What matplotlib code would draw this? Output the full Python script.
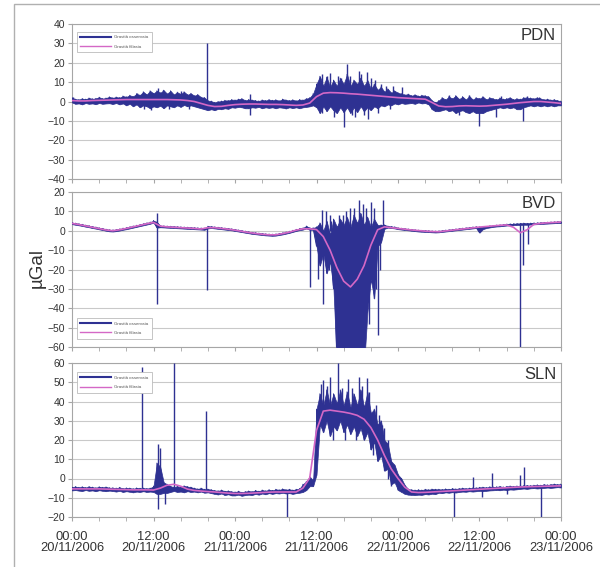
import numpy as np
import matplotlib
matplotlib.use("Agg")
import matplotlib.pyplot as plt
from matplotlib.lines import Line2D
from matplotlib.patches import Rectangle

plt.rcParams['font.family'] = ['Liberation Sans', 'DejaVu Sans']

# ---------------- data ----------------
# observed noise band sampled every half hour (0 .. 72 h from 20/11/2006 00:00)
hours_obs = np.linspace(0, 72, 145)
# filtered series sampled every hour
hours_filt = np.linspace(0, 72, 73)

stations = ["PDN", "BVD", "SLN"]

pdn_hi = [2.0, 1.2, 1.0, 1.5, 1.2, 1.8, 1.4, 1.6, 2.2, 1.5, 1.8, 2.4,
          1.9, 2.3, 2.0, 2.8, 2.4, 3.2, 2.6, 4.0, 3.3, 5.0, 3.6, 5.5,
          4.2, 5.5, 4.5, 5.8, 4.0, 5.5, 3.6, 4.8, 3.8, 5.0, 3.5, 4.2,
          3.0, 3.6, 2.2, 2.0, 0.5, 0.2, -0.5, 0.0, 0.2, 0.6, 0.5, 1.0,
          0.8, 1.2, 1.5, 0.6, 1.0, 0.8, 0.5, 0.3, 0.8, 0.5, 1.0, 0.6,
          0.9, 0.4, 1.2, 0.8, 0.5, 0.9, 0.4, 1.0, 0.8, 1.5, 2.0, 4.0,
          9.0, 13.0, 8.0, 12.5, 7.5, 11.0, 8.0, 12.0, 9.0, 14.0, 8.0, 11.0,
          9.0, 12.0, 8.0, 11.0, 6.5, 9.0, 6.0, 7.5, 5.0, 6.5, 4.5, 5.5,
          4.5, 4.0, 3.5, 3.8, 3.0, 3.5, 2.8, 3.2, 3.0, 2.5, 0.5, -0.5,
          0.5, 2.0, 1.0, 2.5, 1.5, 3.0, 1.2, 2.5, 1.0, 2.8, 1.0, 2.0,
          1.5, 2.5, 1.0, 2.0, 1.5, 1.0, 1.8, 1.2, 1.5, 2.0, 1.0, 1.5,
          1.2, 2.0, 2.0, 1.8, 1.5, 2.0, 1.5, 1.0, 1.2, 0.8, 1.0, 0.5, 0.2]
pdn_lo = [-0.5, -1.2, -1.0, -1.5, -0.8, -1.2, -1.0, -1.4, -0.8, -1.2, -1.0, -0.9,
          -1.3, -0.8, -1.5, -1.0, -2.0, -1.2, -2.5, -1.5, -3.0, -2.0, -2.5, -3.5,
          -2.5, -3.0, -2.2, -3.5, -2.0, -2.5, -3.0, -2.0, -2.8, -1.8, -2.5, -2.0,
          -2.5, -3.0, -3.5, -4.0, -4.5, -4.0, -4.5, -3.8, -4.0, -3.5, -3.8, -3.0,
          -3.2, -2.8, -3.0, -3.5, -3.5, -3.0, -3.2, -2.8, -3.5, -3.0, -3.3, -3.0,
          -3.5, -3.0, -3.2, -3.6, -3.0, -3.4, -3.0, -3.5, -3.0, -2.8, -2.5, -2.0,
          -3.0, -6.0, -2.5, -5.0, -2.5, -4.5, -6.0, -3.0, -5.5, -3.0, -6.0, -3.0,
          -5.5, -2.5, -5.0, -3.0, -4.5, -2.5, -3.5, -2.0, -2.5, -1.5, -2.0, -1.0,
          -1.5, -0.8, -1.2, -1.0, -0.8, -1.2, -0.5, -1.0, -0.8, -1.5, -4.0, -5.0,
          -5.0, -4.5, -4.0, -5.0, -4.5, -6.0, -5.0, -4.5, -5.5, -6.0, -5.0, -6.0,
          -6.0, -6.0, -5.0, -4.5, -4.0, -3.5, -3.0, -3.5, -3.0, -3.5, -3.0, -4.0,
          -4.0, -3.0, -2.5, -2.0, -2.5, -2.0, -2.5, -2.0, -2.5, -2.0, -2.5, -2.0, -2.0]
pdn_filt = [0.5, 0.3, 0.3, 0.5, 0.6, 0.7, 0.8, 0.9, 1.0, 1.0, 1.0, 1.0,
            1.0, 1.0, 1.0, 0.9, 0.8, 0.5, 0.0, -1.0, -2.0, -2.6, -2.5, -2.0,
            -1.6, -1.4, -1.3, -1.3, -1.4, -1.5, -1.5, -1.6, -1.8, -2.0, -1.8, -0.8,
            2.5, 4.3, 4.6, 4.5, 4.3, 4.0, 3.8, 3.5, 3.2, 2.9, 2.6, 2.3,
            2.0, 1.8, 1.6, 1.4, 1.2, -0.5, -2.3, -2.7, -2.6, -2.3, -2.2, -2.3,
            -2.4, -2.3, -2.0, -1.7, -1.4, -1.0, -0.6, -0.3, 0.0, 0.0, -0.3, -0.6, -1.0]
pdn_spike_t = [0.1, 9.5, 10.6, 11.7, 12.7, 13.4, 14.3, 16.0, 17.3, 19.9, 26.2,
               36.5, 36.8, 37.6, 38.0, 38.6, 39.2, 39.6, 40.0, 40.5, 41.0, 41.3, 41.7,
               42.2, 42.6, 43.0, 43.4, 43.6, 44.0, 44.6, 45.0, 45.5, 46.2, 46.8, 47.2,
               48.6, 55.5, 57.0, 58.4, 60.0, 62.5, 63.2, 66.4, 67.0, 68.8]
pdn_spike_from = [0, 0, -4, 0, 0, 0, -4, 0, -4, 0, -7,
                  0, -6, 0, 0, -8, 0, 0, -13, 0, 0, -7, -8,
                  0, 0, -7, 0, -9, 0, 0, -6, 0, 0, -4, 0,
                  0, 0, -7, 0, -12.5, -8, 0, -10, 0, 0]
pdn_spike_to = [2.5, 4.5, 0, -4.5, 7.2, 6, 0, 5.5, 0, 30, 4,
                12, 14, 13, 14.5, 0, 13, 12, 0, 19.5, 13, 0, 0,
                16, 14, 0, 15, 0, 12, 11, 0, 9, 8, 0, 8,
                7.6, 3.5, 0, 3.5, 0, 0, 3, 0, 3, 2.5]

bvd_hi = [4.2, 3.9, 3.6, 3.3, 2.9, 2.6, 2.2, 1.9, 1.5, 1.2, 0.8, 0.5,
          0.4, 0.6, 0.9, 1.3, 1.6, 2.0, 2.4, 2.8, 3.2, 3.6, 4.0, 4.4,
          5.2, 4.5, 2.6, 2.5, 2.4, 2.3, 2.2, 2.1, 2.0, 1.9, 1.8, 1.7,
          1.6, 1.5, 1.4, 1.3, 2.3, 2.2, 2.0, 1.8, 1.6, 1.4, 1.2, 1.0,
          0.7, 0.4, 0.1, -0.2, -0.5, -0.8, -1.0, -1.2, -1.4, -1.6, -1.7, -1.8,
          -1.7, -1.4, -1.1, -0.7, -0.3, 0.2, 0.7, 1.1, 1.4, 2.4, 1.5, 1.5,
          2.0, 4.0, 0.0, 5.0, -2.0, 6.0, 2.0, 6.0, 3.0, 7.0, 2.0, 8.0,
          4.0, 9.0, 3.0, 7.0, 2.0, 6.0, 3.0, 3.0, 3.0, 2.4, 2.2, 2.0,
          1.5, 1.3, 1.1, 0.9, 0.7, 0.5, 0.3, 0.2, 0.1, 0.0, -0.1, -0.2,
          -0.1, 0.1, 0.3, 0.5, 0.7, 0.9, 1.1, 1.3, 1.5, 1.7, 1.9, 2.1,
          2.0, 1.8, 2.2, 2.5, 2.7, 2.9, 3.0, 3.2, 3.4, 3.5, 3.6, 3.7,
          3.8, 3.9, 3.8, 3.9, 4.0, 4.1, 4.2, 4.3, 4.4, 4.5, 4.6, 4.7, 4.8]
bvd_lo = [3.4, 3.1, 2.8, 2.5, 2.1, 1.8, 1.4, 1.1, 0.7, 0.4, 0.0, -0.3,
          -0.4, -0.2, 0.1, 0.5, 0.8, 1.2, 1.6, 2.0, 2.4, 2.8, 3.2, 3.6,
          4.2, 1.6, 1.8, 1.7, 1.6, 1.5, 1.4, 1.3, 1.2, 1.1, 1.0, 0.9,
          0.8, 0.7, 0.6, 0.5, 1.2, 1.4, 1.2, 1.0, 0.8, 0.6, 0.4, 0.2,
          -0.1, -0.4, -0.7, -1.0, -1.3, -1.6, -1.8, -2.0, -2.2, -2.4, -2.5, -2.6,
          -2.5, -2.2, -1.9, -1.5, -1.1, -0.6, -0.1, 0.3, 0.6, 1.2, 0.5, 0.5,
          -8.0, -18.0, -12.0, -22.0, -16.0, -30.0, -70.0, -70.0, -70.0, -70.0, -70.0, -70.0,
          -70.0, -70.0, -70.0, -42.0, -25.0, -35.0, -8.0, -6.0, 1.0, 1.6, 1.4, 1.2,
          0.8, 0.6, 0.4, 0.2, 0.0, -0.2, -0.4, -0.5, -0.6, -0.7, -0.8, -0.9,
          -0.8, -0.6, -0.4, -0.2, 0.0, 0.2, 0.4, 0.6, 0.8, 1.0, 1.2, 1.4,
          -1.0, 0.8, 1.4, 1.7, 2.0, 2.2, 2.3, 2.5, 2.7, 2.8, 2.9, 3.0,
          3.0, 3.1, 3.1, 3.2, 3.3, 3.4, 3.5, 3.6, 3.7, 3.8, 3.9, 4.0, 4.0]
bvd_filt = [3.8, 3.2, 2.5, 1.8, 1.1, 0.4, 0.0, 0.5, 1.2, 2.0, 2.8, 3.6,
            4.3, 2.4, 2.0, 1.8, 1.6, 1.4, 1.2, 0.9, 1.6, 1.6, 1.2, 0.8,
            0.3, -0.3, -0.9, -1.4, -1.8, -2.1, -2.1, -1.5, -0.7, 0.3, 1.0, 1.0,
            0.6, -3.0, -10.0, -19.0, -26.0, -29.0, -25.0, -18.0, -7.5, 0.5, 2.0, 1.6,
            1.2, 0.8, 0.4, 0.1, -0.2, -0.4, -0.5, -0.1, 0.3, 0.7, 1.1, 1.5,
            1.9, 2.2, 2.5, 2.8, 3.0, 1.8, -1.0, 0.5, 3.3, 3.8, 4.1, 4.3, 4.5]
bvd_spike_t = [12.5, 19.9, 35.0, 36.2, 36.8, 37.0, 37.4, 37.8, 38.0, 38.2, 38.5,
               39.3, 39.9, 40.4, 40.9, 41.5, 42.3, 42.8, 43.3, 43.7, 44.0, 44.5,
               44.7, 45.1, 45.4, 45.8, 66.0, 66.4, 67.2]
bvd_spike_from = [-38, -30.5, -29, -25, 0, -38, 0, -20, 0, 0, -28,
                  0, 0, 0, 0, 0, 0, 0, 0, -48, 0, 0,
                  -30, -54, -20, 0, -70, -17.5, -7]
bvd_spike_to = [9, 2, 1.5, 0, 10.5, 0, 10, 0, 8, 5, 0,
                8, 8, 10, 12, 12, 16, 14, 12, 0, 15, 12,
                0, 0, 0, 16, 3.5, 3.5, 3.5]

sln_hi = [-4.5, -4.2, -4.6, -4.3, -4.7, -4.2, -4.5, -4.8, -4.3, -4.6, -4.4, -4.8,
          -4.8, -5.0, -4.6, -5.2, -4.9, -5.0, -5.3, -4.9, -5.1, -5.0, -5.2, -5.0,
          -4.0, 8.0, 6.0, -2.0, -3.0, -4.0, -4.5, -4.0, -4.5, -3.8, -4.2, -4.5,
          -5.0, -5.4, -5.0, -5.6, -5.5, -5.8, -6.2, -6.4, -6.0, -6.6, -6.4, -6.8,
          -7.0, -6.6, -7.2, -6.8, -6.5, -6.8, -6.2, -6.6, -6.0, -6.4, -5.8, -6.2,
          -5.6, -5.9, -5.4, -5.8, -5.6, -6.0, -5.6, -5.2, -3.0, -1.5, 1.0, -1.0,
          36.0, 44.0, 38.0, 46.0, 38.0, 44.0, 39.0, 46.0, 38.0, 45.0, 37.0, 44.0,
          38.0, 46.0, 37.0, 45.0, 34.0, 36.0, 28.0, 30.0, 20.0, 18.0, 9.0, 7.0,
          2.0, 0.0, -3.5, -5.5, -5.8, -6.0, -5.8, -6.0, -5.6, -5.8, -5.5, -5.6,
          -5.6, -5.7, -5.4, -5.6, -5.2, -5.4, -5.2, -5.0, -5.2, -5.0, -4.9, -4.8,
          -4.6, -4.5, -4.7, -4.3, -4.4, -4.3, -4.1, -4.4, -4.1, -3.9, -4.1, -3.9,
          -3.8, -3.7, -3.6, -3.7, -3.5, -3.3, -3.5, -3.1, -3.3, -3.1, -2.9, -3.1, -2.9]
sln_lo = [-6.2, -6.0, -6.3, -6.5, -6.0, -6.4, -6.2, -6.6, -6.1, -6.4, -6.6, -6.3,
          -6.5, -6.8, -6.4, -7.0, -6.6, -6.9, -7.2, -6.8, -7.0, -6.6, -7.0, -6.8,
          -7.0, -8.0, -8.0, -7.5, -7.5, -7.0, -6.5, -7.0, -6.8, -7.2, -6.6, -7.0,
          -6.8, -7.2, -6.8, -7.4, -7.2, -7.6, -8.0, -8.3, -7.8, -8.6, -8.2, -8.8,
          -8.8, -8.4, -9.0, -8.6, -8.4, -8.6, -8.0, -8.4, -7.8, -8.2, -7.6, -8.0,
          -7.6, -7.8, -7.4, -7.8, -7.6, -8.0, -7.6, -7.4, -7.0, -6.0, -4.0, -4.0,
          2.0, 28.0, 24.0, 30.0, 22.0, 27.0, 25.0, 30.0, 24.0, 28.0, 23.0, 27.0,
          22.0, 26.0, 20.0, 24.0, 15.0, 19.0, 9.0, 12.0, 4.0, 5.0, -3.0, -2.0,
          -6.0, -7.0, -8.0, -8.4, -8.5, -8.6, -8.4, -8.5, -8.1, -8.3, -7.9, -8.1,
          -7.4, -7.6, -7.2, -7.4, -7.1, -7.3, -7.0, -6.8, -6.9, -6.6, -6.8, -6.6,
          -6.4, -6.6, -6.4, -6.2, -6.1, -6.0, -6.1, -5.8, -6.0, -5.7, -5.8, -5.6,
          -5.4, -5.2, -5.4, -5.1, -5.0, -5.2, -5.0, -4.9, -4.7, -4.9, -4.7, -4.5, -4.7]
sln_filt = [-5.4, -5.4, -5.4, -5.4, -5.4, -5.5, -5.6, -5.7, -5.8, -5.9, -5.9, -5.9,
            -6.0, -5.0, -3.5, -3.0, -4.0, -5.5, -6.2, -6.5, -6.8, -7.0, -7.3, -7.6,
            -7.8, -7.8, -7.7, -7.5, -7.3, -7.1, -7.0, -7.0, -7.0, -7.0, -5.0, 0.3,
            25.0, 35.0, 35.5, 35.0, 34.5, 33.8, 32.8, 30.8, 26.5, 20.0, 12.0, 5.0,
            0.0, -4.5, -7.0, -7.3, -7.2, -7.0, -6.8, -6.6, -6.4, -6.2, -6.0, -5.8,
            -5.6, -5.4, -5.2, -5.0, -4.8, -4.6, -4.4, -4.3, -4.2, -4.1, -4.0, -3.9, -3.8]
sln_spike_t = [10.26, 12.6, 12.7, 13.0, 13.7, 15.0, 19.8, 31.6,
               36.7, 37.0, 37.6, 38.0, 38.4, 39.2, 39.8, 40.2, 40.7, 41.2, 41.8,
               42.3, 42.7, 43.4, 43.8, 44.3, 44.7, 45.2, 45.6, 46.0, 46.5, 47.0,
               56.3, 59.1, 60.3, 61.8, 64.0, 66.0, 66.6, 69.0]
sln_spike_from = [-5, -5, -16, -5, -13, -5, -7, -20,
                  30, 35, 30, 35, 20, 35, 30, 20, 35, 30, 20,
                  35, 30, 35, 30, 12, 30, 20, 20, 15, 0, -4,
                  -20, -5, -9.5, -5, -8, -4, -4, -20]
sln_spike_to = [58, 18, -5, 16, -6, 60, 35, -6,
                49, 51, 48, 52.8, 30, 60, 47, 30, 51.5, 47, 30,
                52.5, 48, 52, 45, 20, 38, 33, 28, 26, 20, 8,
                -6, 0.9, -5, 2.6, -5, 1.8, 6.1, -4]

y_limits = [(-40, 40), (-60, 20), (-20, 60)]
x_tick_hours = [0, 12, 24, 36, 48, 60, 72]
x_tick_labels = ["00:00\n20/11/2006", "12:00\n20/11/2006", "00:00\n21/11/2006",
                 "12:00\n21/11/2006", "00:00\n22/11/2006", "12:00\n22/11/2006",
                 "00:00\n23/11/2006"]
legend_labels = ["Gravità osservata", "Gravità filtrata"]
y_label = "µGal"

series = [(pdn_hi, pdn_lo, pdn_filt, pdn_spike_t, pdn_spike_from, pdn_spike_to),
          (bvd_hi, bvd_lo, bvd_filt, bvd_spike_t, bvd_spike_from, bvd_spike_to),
          (sln_hi, sln_lo, sln_filt, sln_spike_t, sln_spike_from, sln_spike_to)]
for s in series:
    assert len(s[0]) == 145 and len(s[1]) == 145 and len(s[2]) == 73
    assert len(s[3]) == len(s[4]) == len(s[5]), (len(s[3]), len(s[4]), len(s[5]))

# ---------------- style ----------------
OBS = "#2E3192"
FILT = "#D468C6"
GRID = "#C9C9C9"
FRAME = "#A6A6A6"
TXT = "#333333"

W, H = 600, 567
fig = plt.figure(figsize=(W / 100, H / 100), dpi=100)

# outer frame
fig.add_artist(Rectangle((14 / W, -0.05), 1.2, 1 - 4 / H + 0.05, transform=fig.transFigure,
                         fill=False, edgecolor="#B0B0B0", lw=1.0))

left = 72 / W
width = (561 - 72) / W
panel_px = [(24, 179), (192, 347), (363, 517)]
legend_anchor = [(0.005, 0.965, "upper left"), (0.005, 0.04, "lower left"),
                 (0.005, 0.955, "upper left")]

for k, (name, s, (y0, y1), (ptop, pbot)) in enumerate(zip(stations, series, y_limits, panel_px)):
    hi, lo, f, st, sf, sto = s
    ax = fig.add_axes([left, 1 - pbot / H, width, (pbot - ptop) / H])
    ax.fill_between(hours_obs, lo, hi, color=OBS, lw=0.5, edgecolor=OBS, zorder=3)
    xs = np.repeat(hours_obs, 2)
    ys = np.column_stack([lo, hi]).ravel()
    ax.plot(xs, ys, color=OBS, lw=0.7, zorder=3)
    ax.vlines(st, sf, sto, color=OBS, lw=1.0, zorder=3)
    ax.plot(hours_filt, f, color=FILT, lw=1.2, zorder=4)

    ax.set_xlim(0, 72)
    ax.set_ylim(y0, y1)
    ax.set_yticks(np.arange(y0, y1 + 1, 10))
    ax.yaxis.grid(True, color=GRID, lw=0.8)
    ax.set_axisbelow(True)
    ax.set_xticks(np.arange(0, 73, 4), minor=True)
    ax.set_xticks(x_tick_hours)
    if k == 2:
        ax.set_xticklabels(x_tick_labels, fontsize=9.3, color=TXT, linespacing=0.95)
    else:
        ax.set_xticklabels([])
    ax.tick_params(axis="x", which="both", direction="out", length=3, color=FRAME, pad=7)
    ax.tick_params(axis="y", direction="out", length=3, color=FRAME, labelsize=7.5,
                   labelcolor=TXT, pad=2)
    for sp in ax.spines.values():
        sp.set_color(FRAME)
        sp.set_linewidth(0.8)

    ax.text(0.99, 0.975, name, transform=ax.transAxes, ha="right", va="top",
            fontsize=12, color=TXT)

    handles = [Line2D([], [], color=OBS, lw=1.5), Line2D([], [], color=FILT, lw=1.0)]
    lx, ly, loc = legend_anchor[k]
    leg = ax.legend(handles, legend_labels, loc=loc, bbox_to_anchor=(lx, ly),
                    fontsize=3.2, handlelength=7, handletextpad=0.6, borderpad=0.8,
                    labelspacing=1.2, frameon=True, fancybox=False, framealpha=1)
    leg.get_frame().set_edgecolor("#BBBBBB")
    leg.get_frame().set_linewidth(0.6)
    for t in leg.get_texts():
        t.set_color("#555555")

fig.text(37 / W, 1 - 268 / H, y_label, rotation=90, ha="center", va="center",
         fontsize=13.5, color=TXT)

fig.savefig("out.png", dpi=100)
